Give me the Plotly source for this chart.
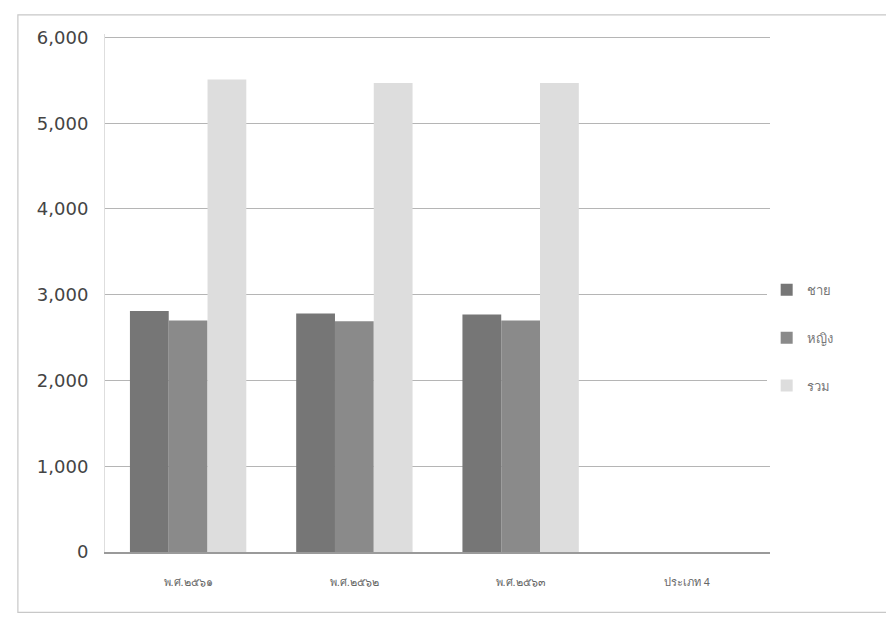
import plotly.graph_objects as go

categories = ["พ.ศ.๒๕๖๑", "พ.ศ.๒๕๖๒", "พ.ศ.๒๕๖๓", "ประเภท 4"]
male = [2810, 2780, 2770, None]
female = [2700, 2690, 2700, None]
total = [5510, 5470, 5470, None]
series_names = ["ชาย", "หญิง", "รวม"]

colors = ["#767676", "#8a8a8a", "#dddddd"]

fig = go.Figure()
for name, vals, col in zip(series_names, [male, female, total], colors):
    fig.add_trace(go.Bar(x=categories, y=vals, name=name, marker_color=col,
                         marker_line_width=0, legendgroup=name))

fig.update_layout(
    width=894, height=632,
    margin=dict(l=97, r=132, t=26, b=88),
    paper_bgcolor="white", plot_bgcolor="white",
    barmode="group", bargap=0.3, bargroupgap=0,
    font=dict(family="Liberation Sans, Noto Sans, sans-serif", color="#444444"),
    legend=dict(x=0.995, y=0.535, xanchor="left", yanchor="top",
                font=dict(size=13, color="#777777"), tracegroupgap=28),
    showlegend=True,
)
fig.update_yaxes(range=[0, 6040], tickvals=[0, 1000, 2000, 3000, 4000, 5000, 6000],
                 tickformat=",d",
                 gridcolor="#b5b5b5", gridwidth=1, zeroline=False,
                 showline=True, linecolor="#dedede", linewidth=1,
                 ticks="", tickfont=dict(family="DejaVu Sans", size=18, color="#444444"),
                 ticklabelstandoff=12)
fig.update_xaxes(showline=True, linecolor="#9a9a9a", linewidth=1.5,
                 tickfont=dict(size=11, color="#666666"), ticks="",
                 ticklabelstandoff=19)

fig.add_shape(type="rect", xref="paper", yref="paper",
              x0=-0.131, x1=1.177, y0=-0.1165, y1=1.037,
              line=dict(color="#c8c8c8", width=1.2), layer="below")

fig.write_html("out.html")
